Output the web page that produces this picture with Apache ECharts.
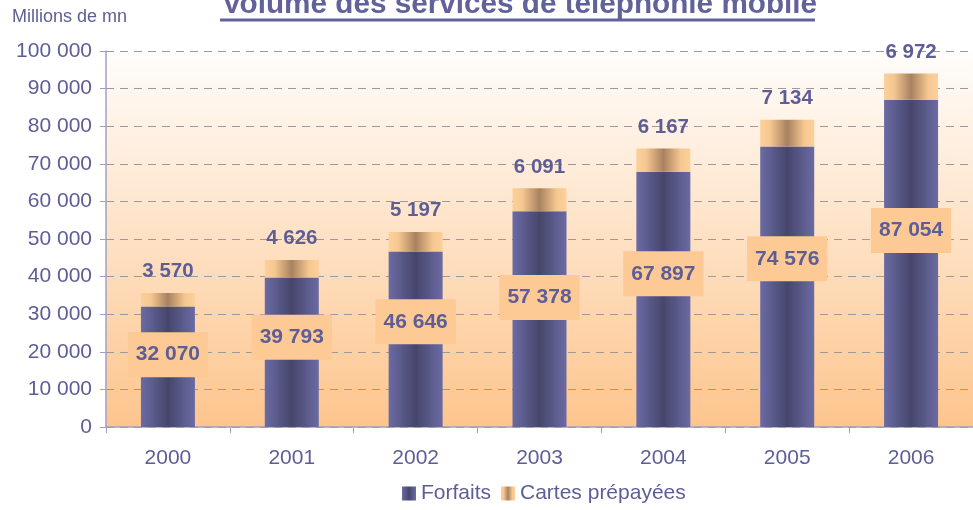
<!DOCTYPE html>
<html>
<head>
<meta charset="utf-8">
<script src="https://cdn.jsdelivr.net/npm/echarts@6/dist/echarts.min.js"></script>
<style>
  html, body { margin: 0; padding: 0; background: #ffffff; }
  #chart { width: 973px; height: 510px; }
</style>
</head>
<body>
<div id="chart"></div>
<script>
// Volume des services de téléphonie mobile (millions de minutes)
const years = ['2000', '2001', '2002', '2003', '2004', '2005', '2006'];
const forfaits = [32070, 39793, 46646, 57378, 67897, 74576, 87054];
const cartesPrepayees = [3570, 4626, 5197, 6091, 6167, 7134, 6972];

const TEXT = '#5e5e96';
const FONT = '"Liberation Sans", Arial, sans-serif';

const fmt = v => String(v).replace(/\B(?=(\d{3})+(?!\d))/g, ' ');

// cylinder-like horizontal shading for both stacks
const purpleFill = {
  type: 'linear', x: 0, y: 0, x2: 1, y2: 0,
  colorStops: [
    { offset: 0, color: '#6b6ba5' },
    { offset: 0.5, color: '#46466c' },
    { offset: 1, color: '#6b6ba5' }
  ]
};
const peachFill = {
  type: 'linear', x: 0, y: 0, x2: 1, y2: 0,
  colorStops: [
    { offset: 0, color: '#fdd09c' },
    { offset: 0.18, color: '#f6c790' },
    { offset: 0.5, color: '#a88260' },
    { offset: 0.82, color: '#f6c790' },
    { offset: 1, color: '#fdd09c' }
  ]
};

const chart = echarts.init(document.getElementById('chart'), null, { renderer: 'canvas' });

chart.setOption({
  animation: false,
  textStyle: { fontFamily: FONT },
  title: {
    text: 'Volume des services de téléphonie mobile',
    left: 217,
    top: -15,
    textStyle: { fontFamily: FONT, fontSize: 29.7, fontWeight: 'bold', color: '#62629a' }
  },
  graphic: [
    { type: 'line', shape: { x1: 220, y1: 20, x2: 815, y2: 20 }, style: { stroke: '#62629a', lineWidth: 3 } },
    { type: 'text', left: 12, top: 8, style: { text: 'Millions de mn', fontFamily: FONT, fontSize: 18, fill: TEXT } }
  ],
  legend: {
    bottom: 1,
    left: 397,
    itemWidth: 14,
    itemHeight: 14,
    itemGap: 10,
    textStyle: { fontFamily: FONT, fontSize: 21, color: TEXT },
    data: [
      { name: 'Forfaits', icon: 'rect' },
      { name: 'Cartes prépayées', icon: 'rect' }
    ]
  },
  grid: {
    left: 106, right: -8, top: 51, bottom: 83,
    show: true,
    borderWidth: 0,
    backgroundColor: {
      type: 'linear', x: 0, y: 0, x2: 0, y2: 1,
      colorStops: [
        { offset: 0, color: '#fffdfb' },
        { offset: 1, color: '#fdc58d' }
      ]
    }
  },
  xAxis: {
    type: 'category',
    data: years,
    axisLine: { lineStyle: { color: '#a0a0b8', width: 1.5 } },
    axisTick: { show: true, length: 6, lineStyle: { color: '#a0a0b8' } },
    axisLabel: { fontFamily: FONT, fontSize: 21, color: TEXT, margin: 21 }
  },
  yAxis: {
    type: 'value',
    min: 0, max: 100000, interval: 10000,
    axisLine: { show: true, lineStyle: { color: '#a0a0c8', width: 1.5 } },
    axisTick: { show: true, length: 6, lineStyle: { color: '#a0a0c8' } },
    axisLabel: { fontFamily: FONT, fontSize: 21, color: TEXT, margin: 14, formatter: v => fmt(v) },
    splitLine: { show: true, lineStyle: { color: '#9a9a9a', type: [8, 6], width: 1.2 } }
  },
  series: [
    {
      name: 'Forfaits',
      type: 'bar',
      stack: 'total',
      barWidth: 54,
      data: forfaits,
      itemStyle: { color: purpleFill },
      label: {
        show: true,
        position: ['50%', '40%'],
        align: 'center',
        verticalAlign: 'middle',
        formatter: p => fmt(p.value),
        fontFamily: FONT,
        fontSize: 21,
        fontWeight: 'bold',
        color: TEXT,
        backgroundColor: '#fdc995',
        padding: [13, 8, 11, 8]
      }
    },
    {
      name: 'Cartes prépayées',
      type: 'bar',
      stack: 'total',
      barWidth: 54,
      data: cartesPrepayees,
      itemStyle: { color: peachFill },
      label: {
        show: true,
        position: 'top',
        distance: 11,
        formatter: p => fmt(p.value),
        fontFamily: FONT,
        fontSize: 20.5,
        fontWeight: 'bold',
        color: TEXT
      }
    }
  ]
});
</script>
</body>
</html>
